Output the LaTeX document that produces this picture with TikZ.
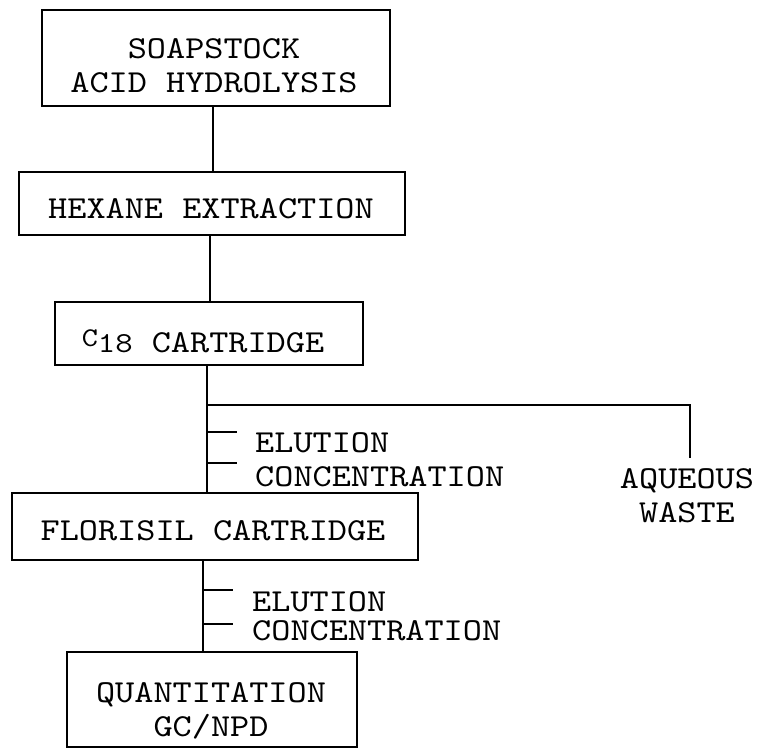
\documentclass[tikz,border=0pt]{standalone}
\usepackage{fontspec}
\setmonofont{lmmono10-regular.otf}[FakeStretch=1.14]
\begin{document}
\begin{tikzpicture}[x=1pt,y=-1pt,
  every node/.style={font=\ttfamily\fontsize{32}{34}\selectfont},
  box/.style={draw,line width=1.3pt,inner sep=0pt},
  txt/.style={inner sep=0pt,align=center},
  lab/.style={anchor=west,inner sep=0pt},
  conn/.style={line width=1.3pt}]
\useasboundingbox (0,0) rectangle (767,753);
% boxes
\node[box,minimum width=348pt,minimum height=96pt] (b1) at (216,58) {};
\node[box,minimum width=386pt,minimum height=63pt] (b2) at (212,203.5) {};
\node[box,minimum width=308pt,minimum height=63pt] (b3) at (209,333.5) {};
\node[box,minimum width=406pt,minimum height=67pt] (b4) at (215,526.5) {};
\node[box,minimum width=290pt,minimum height=95pt] (b5) at (212,699.5) {};
% box texts
\node[txt] (t1txt) at (214,66) {SOAPSTOCK\\ACID HYDROLYSIS};
\node[txt] (t2txt) at (211,208.5) {HEXANE EXTRACTION};
\node[txt] (t3txt) at (203,341) {\raisebox{6pt}{\fontsize{27}{27}\selectfont C}{\fontsize{29}{29}\selectfont 18} CARTRIDGE};
\node[txt] (t4txt) at (213,530.5) {FLORISIL CARTRIDGE};
\node[txt] (t5txt) at (211,710.5) {QUANTITATION\\GC/NPD};
% side texts
\node[txt,anchor=north] (aq) at (687,468) {AQUEOUS\\WASTE};
\node[lab] (el1) at (255,443) {ELUTION};
\node[lab] (co1) at (255,477) {CONCENTRATION};
\node[lab] (el2) at (252,602) {ELUTION};
\node[lab] (co2) at (252,631) {CONCENTRATION};
% connector coordinates
\coordinate (x1) at (213,0);
\coordinate (x2) at (210,0);
\coordinate (x3) at (207,0);
\coordinate (x4) at (203,0);
\coordinate (br) at (207,405);
\coordinate (aqx) at (690,405);
\coordinate (aqend) at (690,458);
\coordinate (k1) at (207,432);
\coordinate (k2) at (207,463);
\coordinate (k3) at (203,590);
\coordinate (k4) at (203,624);
\draw[conn] (b1.south -| x1) -- (b2.north -| x1);
\draw[conn] (b2.south -| x2) -- (b3.north -| x2);
\draw[conn] (b3.south -| x3) -- (b4.north -| x3);
\draw[conn] (b4.south -| x4) -- (b5.north -| x4);
\draw[conn] (br) -- (aqx) -- (aqend);
\draw[conn] (k1) -- ++(30,0);
\draw[conn] (k2) -- ++(30,0);
\draw[conn] (k3) -- ++(30,0);
\draw[conn] (k4) -- ++(30,0);
\end{tikzpicture}
\end{document}
